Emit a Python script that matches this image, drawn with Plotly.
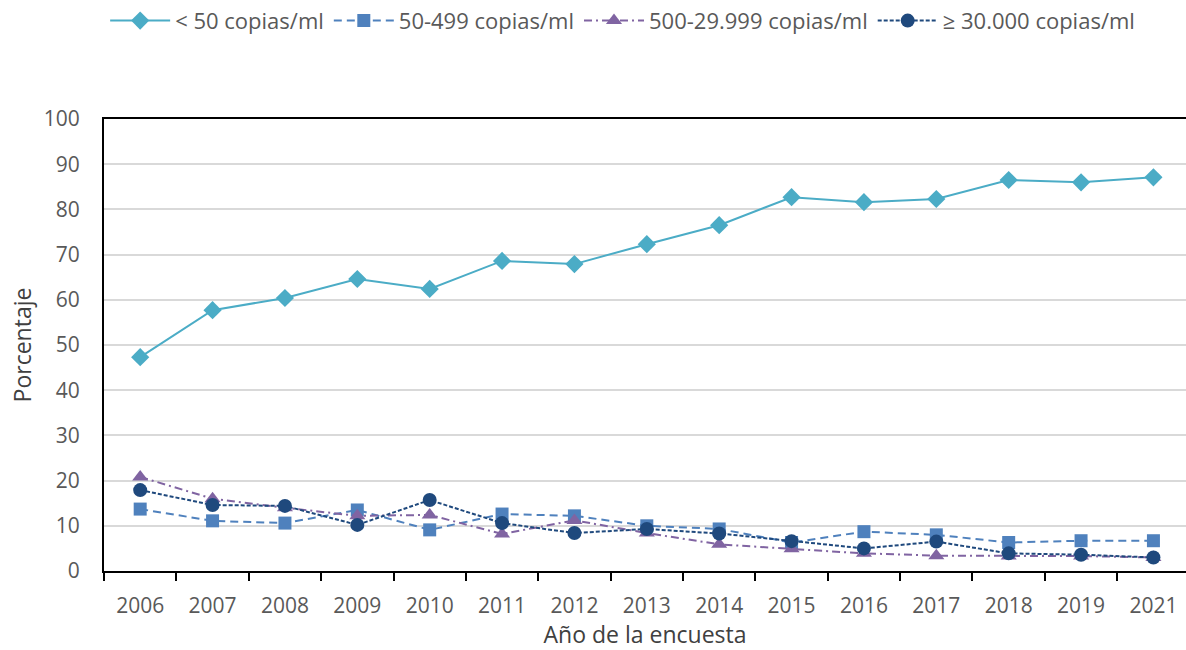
import plotly.graph_objects as go

years = ["2006", "2007", "2008", "2009", "2010", "2011", "2012", "2013",
         "2014", "2015", "2016", "2017", "2018", "2019", "2021"]
lt50 = [47.3, 57.7, 60.4, 64.6, 62.4, 68.6, 67.9, 72.3, 76.5, 82.7, 81.6, 82.3, 86.5, 86.0, 87.1]
c50_499 = [13.7, 11.1, 10.6, 13.5, 9.1, 12.6, 12.2, 10.0, 9.3, 6.3, 8.7, 8.0, 6.3, 6.7, 6.7]
c500_29999 = [20.8, 16.0, 14.0, 12.2, 12.4, 8.2, 11.2, 8.4, 5.9, 4.9, 3.9, 3.4, 3.3, 3.3, 3.0]
ge30000 = [17.9, 14.6, 14.4, 10.2, 15.7, 10.6, 8.4, 9.3, 8.3, 6.6, 5.0, 6.5, 3.9, 3.6, 3.0]

names = ["< 50 copias/ml", "50-499 copias/ml", "500-29.999 copias/ml", "≥ 30.000 copias/ml"]
series = [lt50, c50_499, c500_29999, ge30000]
colors = ["#4BACC6", "#4F81BD", "#8064A2", "#1F497D"]
dashes = ["solid", "8px,5px", "8px,4px,2px,4px", "4px,2px"]
symbols = ["diamond", "square", "triangle-up", "circle"]
sizes = [14, 13, 14, 14]

FONT = "Open Sans"
fig = go.Figure()
for n, s, c, d, sym, sz in zip(names, series, colors, dashes, symbols, sizes):
    fig.add_trace(go.Scatter(
        x=years, y=s, name=n, mode="lines+markers",
        line=dict(color=c, dash=d, width=2),
        marker=dict(symbol=sym, size=sz, color=c),
    ))

fig.update_layout(
    width=1186, height=650,
    margin=dict(l=104, r=0, t=119, b=79),
    plot_bgcolor="white", paper_bgcolor="white",
    font=dict(family=FONT, size=18, color="#595959"),
    legend=dict(orientation="h", xref="container", yref="container",
                x=0.525, xanchor="center", y=0.968, yanchor="middle",
                font=dict(size=22, color="#595959"), itemwidth=60,
                traceorder="normal"),
    xaxis=dict(type="category", range=[-0.5, 14.45], showline=True, linecolor="black",
               linewidth=2, mirror=True, ticks="outside", tickson="boundaries",
               ticklen=8, tickcolor="black", tickwidth=2, showgrid=False,
               automargin=False, ticklabelstandoff=15,
               title=dict(text="Año de la encuesta", font=dict(size=23, color="#404040"), standoff=24),
               tickfont=dict(size=21, color="#595959")),
    yaxis=dict(range=[0, 100], dtick=10, showline=True, linecolor="black", linewidth=2,
               gridcolor="#D9D9D9", gridwidth=2, zeroline=False, ticks="",
               automargin=False, ticklabelstandoff=18,
               title=dict(text="Porcentaje", font=dict(size=23, color="#404040"), standoff=6),
               tickfont=dict(size=21, color="#595959")),
)

fig.write_html("out.html", config={"displayModeBar": False},
               post_script="document.body.style.margin='0';document.body.style.overflow='hidden';")
